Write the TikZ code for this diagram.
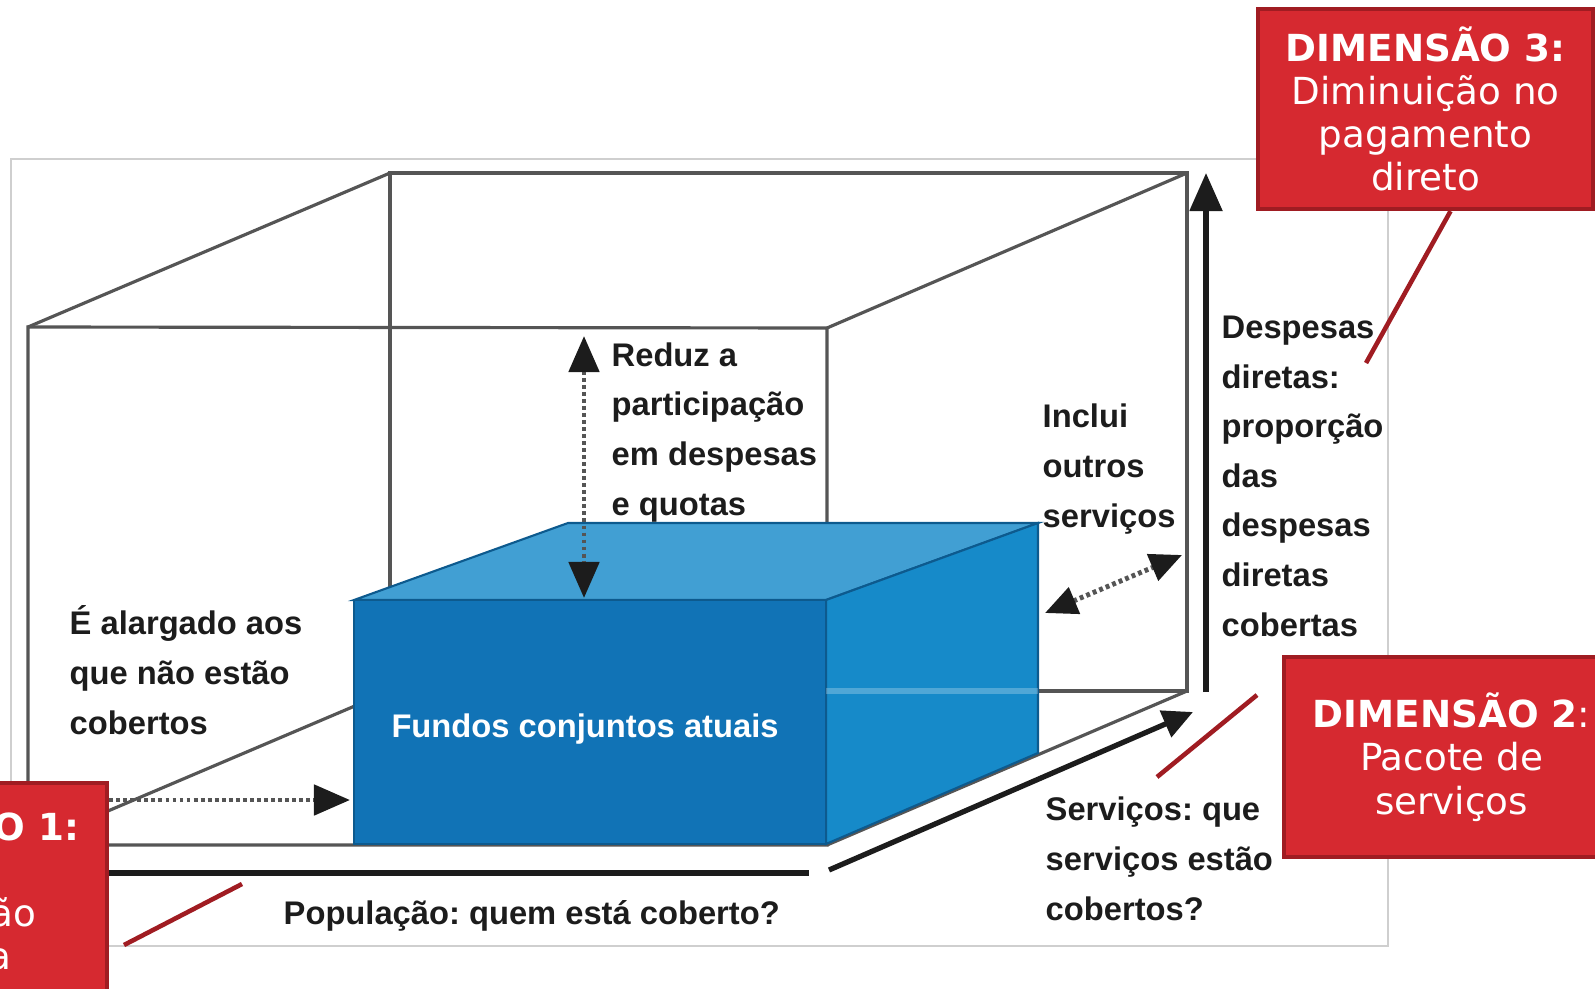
\documentclass[tikz,border=0pt]{standalone}
\usepackage{fontspec}
\setmainfont{Liberation Sans}
\newfontfamily\dimfont{DejaVu Sans}
\usetikzlibrary{arrows.meta,calc}
\definecolor{frame}{HTML}{CFCFCF}
\definecolor{wire}{HTML}{555555}
\definecolor{ink}{HTML}{1C1C1C}
\definecolor{fundfront}{HTML}{1173B6}
\definecolor{fundtop}{HTML}{419FD3}
\definecolor{fundside}{HTML}{168AC9}
\definecolor{fundedge}{HTML}{0D5A8E}
\definecolor{dimred}{HTML}{D62930}
\definecolor{dimdark}{HTML}{A01C22}
\tikzset{
  wire/.style={draw=wire, line width=0.9pt},
  axis/.style={draw=ink, line width=1.5pt},
  dots/.style={draw=wire, line width=1.4pt, dash pattern=on 1.1pt off 0.9pt},
  bigtip/.tip={Triangle[length=0.36cm, width=0.3cm, color=ink]},
  midtip/.tip={Triangle[length=0.32cm, width=0.28cm, color=ink]},
  % base west = baseline of the last line
  lab/.style={text=ink, font=\frenchspacing\fontsize{9.3}{14.1}\selectfont\bfseries,
    align=left, inner sep=0pt, anchor=base west},
  dimbox/.style={fill=dimred, draw=dimdark, line width=1.2pt, text=white,
    minimum width=3.35cm, align=center, inner sep=0pt,
    font=\dimfont\fontsize{10.6}{12.3}\selectfont},
  leader/.style={draw=dimdark, line width=1.3pt}
}
\begin{document}
\begin{tikzpicture}[x=0.01cm, y=-0.01cm]
  \useasboundingbox (0,0) rectangle (1595,988);
  \clip (0,0) rectangle (1595,988);

  % picture frame
  \draw[frame, line width=0.6pt] (11,159) rectangle (1388,946);

  % outer cube
  \coordinate (F1) at (28,327);  \coordinate (F2) at (827,328);
  \coordinate (F3) at (827,845); \coordinate (F4) at (28,845);
  \coordinate (B1) at (390,173); \coordinate (B2) at (1187,173);
  \coordinate (B3) at (1187,691); \coordinate (B4) at (390,691);
  \draw[wire] (F1)--(F2)--(F3)--(F4)--cycle;
  \draw[wire] (B1)--(B2)--(B3)--(B4)--cycle;
  \draw[wire] (F1)--(B1) (F2)--(B2) (F3)--(B3) (F4)--(B4);

  % current pooled funds
  \coordinate (P1) at (354,600); \coordinate (P2) at (826,600);
  \coordinate (P3) at (826,844); \coordinate (P4) at (354,844);
  \coordinate (Q1) at (568,523); \coordinate (Q2) at (1038,523);
  \coordinate (Q3) at (1038,753);
  \filldraw[fill=fundtop, draw=fundedge, line width=0.6pt] (P1)--(Q1)--(Q2)--(P2)--cycle;
  \filldraw[fill=fundside, draw=fundedge, line width=0.6pt] (P2)--(Q2)--(Q3)--(P3)--cycle;
  \filldraw[fill=fundfront, draw=fundedge, line width=0.6pt] (P1) rectangle (P3);
  \draw[white, opacity=0.25, line width=1.5pt] (P2 |- B3) -- (Q3 |- B3);
  \node[text=white, font=\fontsize{9.3}{11}\selectfont\bfseries] (fundos) at (585,729)
    {Fundos conjuntos atuais};

  % axes
  \coordinate (popA) at (60,873);   \coordinate (popB) at (809,873);
  \coordinate (servA) at (829,870); \coordinate (servB) at (1193,712);
  \coordinate (despA) at (1206,692); \coordinate (despB) at (1206,173);
  \draw[axis] (popA) -- (popB);
  \draw[axis, -{Triangle[length=0.3cm, width=0.28cm]}] (servA) -- (servB);
  \draw[axis, -{Triangle[length=0.38cm, width=0.32cm]}] (despA) -- (despB);

  % dotted arrows
  \coordinate (alA) at (60,800);    \coordinate (alB) at (350,800);
  \coordinate (redA) at (584,336);  \coordinate (redB) at (584,598);
  \coordinate (incA) at (1045,613); \coordinate (incB) at (1182,555);
  \draw[dots, -bigtip] (alA) -- (alB);
  \draw[dots, bigtip-bigtip] (redA) -- (redB);
  \draw[dots, midtip-midtip] (incA) -- (incB);

  % labels
  \node[lab] (reduz) at (611,515) {Reduz a\\participação\\em despesas\\e quotas};
  \node[lab] (inclui) at (1042,527) {Inclui\\outros\\serviços};
  \node[lab] (despesas) at (1221,636)
    {Despesas\\diretas:\\proporção\\das\\despesas\\diretas\\cobertas};
  \node[lab] (alargado) at (69,734) {É alargado aos\\que não estão\\cobertos};
  \node[lab] (servicos) at (1045,920) {Serviços: que\\serviços estão\\cobertos?};
  \node[lab] (populacao) at (283,924) {População: quem está coberto?};

  % dimensions
  \node[dimbox, minimum height=2.0cm] (dim3) at (1425.5,109)
    {\textbf{DIMENSÃO 3:}\\Diminuição no\\pagamento\\direto};
  \node[dimbox, minimum height=2.0cm] (dim2) at (1451.5,757)
    {\textbf{DIMENSÃO 2}:\\Pacote de\\serviços};
  \node[dimbox, minimum height=2.1cm] (dim1) at (-60.5,888)
    {\textbf{DIMENSÃO 1:}\\Mais\\população\\coberta};
  \coordinate (d3end) at (1366,363);
  \coordinate (d2a) at (1257,695); \coordinate (d2b) at (1157,777);
  \coordinate (d1a) at (242,884);  \coordinate (d1b) at (124,945);
  \draw[leader] ($(dim3.south)+(25,0)$) -- (d3end);
  \draw[leader] (d2a) -- (d2b);
  \draw[leader] (d1a) -- (d1b);
\end{tikzpicture}
\end{document}
